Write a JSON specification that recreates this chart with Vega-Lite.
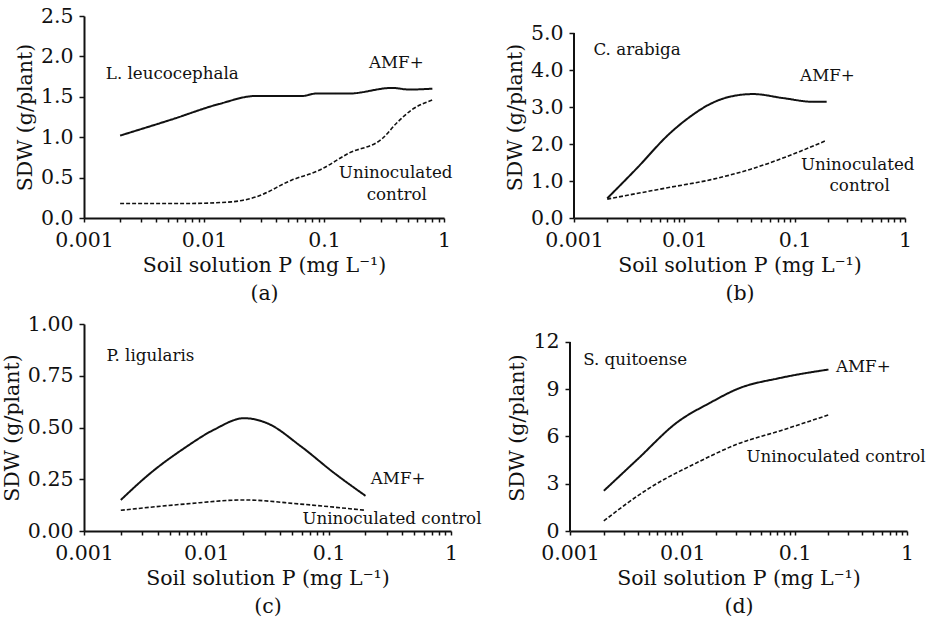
{
  "$schema": "https://vega.github.io/schema/vega-lite/v6.json",
  "padding": {"left": 2, "top": 6, "right": 2, "bottom": 2},
  "background": "white",
  "config": {
    "font": "DejaVu Serif",
    "view": {"stroke": null},
    "axis": {
      "grid": false,
      "domainColor": "#111",
      "domainWidth": 2,
      "tickColor": "#111",
      "tickWidth": 1.5,
      "tickSize": 4,
      "labelColor": "#111",
      "labelFontSize": 20.5,
      "labelFont": "DejaVu Serif",
      "titleColor": "#111",
      "titleFontSize": 20.5,
      "titleFont": "DejaVu Serif",
      "titleFontWeight": "normal",
      "labelOverlap": false,
      "labelFlush": false
    },
    "axisX": {"labelPadding": 8, "titlePadding": 5, "titleLineHeight": 28},
    "axisY": {"tickSize": 5, "labelPadding": 6, "titlePadding": 5}
  },
  "datasets": {
    "d": [
      {"panel": "a", "series": "AMF+", "P": 0.002, "SDW": 1.02},
      {"panel": "a", "series": "AMF+", "P": 0.0054, "SDW": 1.22},
      {"panel": "a", "series": "AMF+", "P": 0.0133, "SDW": 1.41},
      {"panel": "a", "series": "AMF+", "P": 0.027, "SDW": 1.51},
      {"panel": "a", "series": "AMF+", "P": 0.066, "SDW": 1.51},
      {"panel": "a", "series": "AMF+", "P": 0.086, "SDW": 1.54},
      {"panel": "a", "series": "AMF+", "P": 0.16, "SDW": 1.54},
      {"panel": "a", "series": "AMF+", "P": 0.37, "SDW": 1.61},
      {"panel": "a", "series": "AMF+", "P": 0.51, "SDW": 1.59},
      {"panel": "a", "series": "AMF+", "P": 0.8, "SDW": 1.6},
      {"panel": "a", "series": "Uninoculated control", "P": 0.002, "SDW": 0.18},
      {"panel": "a", "series": "Uninoculated control", "P": 0.0071, "SDW": 0.18},
      {"panel": "a", "series": "Uninoculated control", "P": 0.017, "SDW": 0.2},
      {"panel": "a", "series": "Uninoculated control", "P": 0.027, "SDW": 0.26},
      {"panel": "a", "series": "Uninoculated control", "P": 0.054, "SDW": 0.47},
      {"panel": "a", "series": "Uninoculated control", "P": 0.091, "SDW": 0.59},
      {"panel": "a", "series": "Uninoculated control", "P": 0.16, "SDW": 0.8},
      {"panel": "a", "series": "Uninoculated control", "P": 0.31, "SDW": 0.99},
      {"panel": "a", "series": "Uninoculated control", "P": 0.4, "SDW": 1.17},
      {"panel": "a", "series": "Uninoculated control", "P": 0.54, "SDW": 1.34},
      {"panel": "a", "series": "Uninoculated control", "P": 0.8, "SDW": 1.46},
      {"panel": "a", "label": "L. leucocephala", "P": 0.00152, "SDW": 1.78},
      {"panel": "a", "label": "AMF+", "P": 0.237, "SDW": 1.92},
      {"panel": "a", "label": "Uninoculated", "P": 0.133, "SDW": 0.56},
      {"panel": "a", "label": "control", "P": 0.227, "SDW": 0.28},

      {"panel": "b", "axisline": "y", "P": 0.001, "SDW": 0, "SDW2": 5},
      {"panel": "b", "series": "AMF+", "P": 0.002, "SDW": 0.53},
      {"panel": "b", "series": "AMF+", "P": 0.0037, "SDW": 1.34},
      {"panel": "b", "series": "AMF+", "P": 0.0074, "SDW": 2.29},
      {"panel": "b", "series": "AMF+", "P": 0.0113, "SDW": 2.74},
      {"panel": "b", "series": "AMF+", "P": 0.0171, "SDW": 3.08},
      {"panel": "b", "series": "AMF+", "P": 0.026, "SDW": 3.28},
      {"panel": "b", "series": "AMF+", "P": 0.042, "SDW": 3.35},
      {"panel": "b", "series": "AMF+", "P": 0.079, "SDW": 3.24},
      {"panel": "b", "series": "AMF+", "P": 0.148, "SDW": 3.14},
      {"panel": "b", "series": "AMF+", "P": 0.195, "SDW": 3.14},
      {"panel": "b", "series": "Uninoculated control", "P": 0.002, "SDW": 0.51},
      {"panel": "b", "series": "Uninoculated control", "P": 0.0074, "SDW": 0.83},
      {"panel": "b", "series": "Uninoculated control", "P": 0.0171, "SDW": 1.03},
      {"panel": "b", "series": "Uninoculated control", "P": 0.04, "SDW": 1.32},
      {"panel": "b", "series": "Uninoculated control", "P": 0.112, "SDW": 1.8},
      {"panel": "b", "series": "Uninoculated control", "P": 0.195, "SDW": 2.1},
      {"panel": "b", "label": "C. arabiga", "P": 0.0015, "SDW": 4.55},
      {"panel": "b", "label": "AMF+", "P": 0.112, "SDW": 3.83},
      {"panel": "b", "label": "Uninoculated", "P": 0.114, "SDW": 1.44},
      {"panel": "b", "label": "control", "P": 0.207, "SDW": 0.86},

      {"panel": "c", "series": "AMF+", "P": 0.002, "SDW": 0.15},
      {"panel": "c", "series": "AMF+", "P": 0.0035, "SDW": 0.28},
      {"panel": "c", "series": "AMF+", "P": 0.0066, "SDW": 0.4},
      {"panel": "c", "series": "AMF+", "P": 0.0116, "SDW": 0.49},
      {"panel": "c", "series": "AMF+", "P": 0.0204, "SDW": 0.545},
      {"panel": "c", "series": "AMF+", "P": 0.0316, "SDW": 0.52},
      {"panel": "c", "series": "AMF+", "P": 0.059, "SDW": 0.41},
      {"panel": "c", "series": "AMF+", "P": 0.111, "SDW": 0.28},
      {"panel": "c", "series": "AMF+", "P": 0.2, "SDW": 0.17},
      {"panel": "c", "series": "Uninoculated control", "P": 0.002, "SDW": 0.1},
      {"panel": "c", "series": "Uninoculated control", "P": 0.0066, "SDW": 0.13},
      {"panel": "c", "series": "Uninoculated control", "P": 0.02, "SDW": 0.15},
      {"panel": "c", "series": "Uninoculated control", "P": 0.059, "SDW": 0.13},
      {"panel": "c", "series": "Uninoculated control", "P": 0.2, "SDW": 0.1},
      {"panel": "c", "label": "P. ligularis", "P": 0.00153, "SDW": 0.847},
      {"panel": "c", "label": "AMF+", "P": 0.221, "SDW": 0.25},
      {"panel": "c", "label": "Uninoculated control", "P": 0.061, "SDW": 0.056},

      {"panel": "d", "axisline": "y", "P": 0.001, "SDW": 0, "SDW2": 12},
      {"panel": "d", "series": "AMF+", "P": 0.002, "SDW": 2.55},
      {"panel": "d", "series": "AMF+", "P": 0.004, "SDW": 4.56},
      {"panel": "d", "series": "AMF+", "P": 0.009, "SDW": 6.9},
      {"panel": "d", "series": "AMF+", "P": 0.018, "SDW": 8.17},
      {"panel": "d", "series": "AMF+", "P": 0.031, "SDW": 9.02},
      {"panel": "d", "series": "AMF+", "P": 0.075, "SDW": 9.72},
      {"panel": "d", "series": "AMF+", "P": 0.2, "SDW": 10.25},
      {"panel": "d", "series": "Uninoculated control", "P": 0.002, "SDW": 0.64},
      {"panel": "d", "series": "Uninoculated control", "P": 0.0049, "SDW": 2.65},
      {"panel": "d", "series": "Uninoculated control", "P": 0.0136, "SDW": 4.35},
      {"panel": "d", "series": "Uninoculated control", "P": 0.031, "SDW": 5.52},
      {"panel": "d", "series": "Uninoculated control", "P": 0.075, "SDW": 6.37},
      {"panel": "d", "series": "Uninoculated control", "P": 0.2, "SDW": 7.37},
      {"panel": "d", "label": "S. quitoense", "P": 0.00131, "SDW": 10.83},
      {"panel": "d", "label": "AMF+", "P": 0.233, "SDW": 10.4},
      {"panel": "d", "label": "Uninoculated control", "P": 0.0372, "SDW": 4.67}
    ]
  },
  "data": {"name": "d"},
  "spacing": 10,
  "vconcat": [
    {
      "spacing": 52,
      "hconcat": [
        {
          "width": 360, "height": 202,
          "transform": [{"filter": "datum.panel == 'a'"}],
          "encoding": {
            "x": {"field": "P", "type": "quantitative", "scale": {"type": "log", "domain": [0.001, 1]},
              "axis": {"values": [0.001,0.002,0.003,0.004,0.005,0.006,0.007,0.008,0.009,0.01,0.02,0.03,0.04,0.05,0.06,0.07,0.08,0.09,0.1,0.2,0.3,0.4,0.5,0.6,0.7,0.8,0.9,1],
                "format": "~g", "labelExpr": "indexof([0.001,0.01,0.1,1], datum.value) >= 0 ? datum.label : ''",
                "title": ["Soil solution P (mg L⁻¹)", "(a)"]}},
            "y": {"field": "SDW", "type": "quantitative", "scale": {"domain": [0, 2.5], "nice": false},
              "axis": {"values": [0, 0.5, 1, 1.5, 2, 2.5], "format": ".1f", "title": "SDW (g/plant)"}}
          },
          "layer": [
            {"transform": [{"filter": "isValid(datum.series)"}],
             "mark": {"type": "line", "interpolate": "monotone", "color": "#111"},
             "encoding": {
               "detail": {"field": "series"},
               "strokeDash": {"field": "series", "scale": {"domain": ["AMF+", "Uninoculated control"], "range": [[1, 0], [4, 2]]}, "legend": null},
               "strokeWidth": {"field": "series", "scale": {"domain": ["AMF+", "Uninoculated control"], "range": [2, 1.6]}, "legend": null}
             }},
            {"transform": [{"filter": "isValid(datum.label)"}],
             "mark": {"type": "text", "align": "left", "baseline": "middle", "fontSize": 16.7, "color": "#111"},
             "encoding": {"text": {"field": "label"}}}
          ]
        },
        {
          "width": 331, "height": 202,
          "transform": [{"filter": "datum.panel == 'b'"}],
          "encoding": {
            "x": {"field": "P", "type": "quantitative", "scale": {"type": "log", "domain": [0.001, 1]},
              "axis": {"values": [0.001,0.002,0.003,0.004,0.005,0.006,0.007,0.008,0.009,0.01,0.02,0.03,0.04,0.05,0.06,0.07,0.08,0.09,0.1,0.2,0.3,0.4,0.5,0.6,0.7,0.8,0.9,1],
                "format": "~g", "labelExpr": "indexof([0.001,0.01,0.1,1], datum.value) >= 0 ? datum.label : ''",
                "title": ["Soil solution P (mg L⁻¹)", "(b)"]}},
            "y": {"field": "SDW", "type": "quantitative", "scale": {"domain": [0, 5.46], "nice": false},
              "axis": {"values": [0, 1, 2, 3, 4, 5], "format": ".1f", "title": "SDW (g/plant)", "domain": false}}
          },
          "layer": [
            {"transform": [{"filter": "isValid(datum.axisline)"}],
             "mark": {"type": "rule", "color": "#111", "strokeWidth": 2},
             "encoding": {"y2": {"field": "SDW2"}}},
            {"transform": [{"filter": "isValid(datum.series)"}],
             "mark": {"type": "line", "interpolate": "monotone", "color": "#111"},
             "encoding": {
               "detail": {"field": "series"},
               "strokeDash": {"field": "series", "scale": {"domain": ["AMF+", "Uninoculated control"], "range": [[1, 0], [4, 2]]}, "legend": null},
               "strokeWidth": {"field": "series", "scale": {"domain": ["AMF+", "Uninoculated control"], "range": [2, 1.6]}, "legend": null}
             }},
            {"transform": [{"filter": "isValid(datum.label)"}],
             "mark": {"type": "text", "align": "left", "baseline": "middle", "fontSize": 16.7, "color": "#111"},
             "encoding": {"text": {"field": "label"}}}
          ]
        }
      ]
    },
    {
      "spacing": 25,
      "hconcat": [
        {
          "width": 367, "height": 207,
          "transform": [{"filter": "datum.panel == 'c'"}],
          "encoding": {
            "x": {"field": "P", "type": "quantitative", "scale": {"type": "log", "domain": [0.001, 1]},
              "axis": {"values": [0.001,0.002,0.003,0.004,0.005,0.006,0.007,0.008,0.009,0.01,0.02,0.03,0.04,0.05,0.06,0.07,0.08,0.09,0.1,0.2,0.3,0.4,0.5,0.6,0.7,0.8,0.9,1],
                "format": "~g", "labelExpr": "indexof([0.001,0.01,0.1,1], datum.value) >= 0 ? datum.label : ''",
                "title": ["Soil solution P (mg L⁻¹)", "(c)"]}},
            "y": {"field": "SDW", "type": "quantitative", "scale": {"domain": [0, 1], "nice": false},
              "axis": {"values": [0, 0.25, 0.5, 0.75, 1], "format": ".2f", "title": "SDW (g/plant)"}}
          },
          "layer": [
            {"transform": [{"filter": "isValid(datum.series)"}],
             "mark": {"type": "line", "interpolate": "monotone", "color": "#111"},
             "encoding": {
               "detail": {"field": "series"},
               "strokeDash": {"field": "series", "scale": {"domain": ["AMF+", "Uninoculated control"], "range": [[1, 0], [4, 2]]}, "legend": null},
               "strokeWidth": {"field": "series", "scale": {"domain": ["AMF+", "Uninoculated control"], "range": [2, 1.6]}, "legend": null}
             }},
            {"transform": [{"filter": "isValid(datum.label)"}],
             "mark": {"type": "text", "align": "left", "baseline": "middle", "fontSize": 16.7, "color": "#111"},
             "encoding": {"text": {"field": "label"}}}
          ]
        },
        {
          "width": 337, "height": 207,
          "transform": [{"filter": "datum.panel == 'd'"}],
          "encoding": {
            "x": {"field": "P", "type": "quantitative", "scale": {"type": "log", "domain": [0.001, 1]},
              "axis": {"values": [0.001,0.002,0.003,0.004,0.005,0.006,0.007,0.008,0.009,0.01,0.02,0.03,0.04,0.05,0.06,0.07,0.08,0.09,0.1,0.2,0.3,0.4,0.5,0.6,0.7,0.8,0.9,1],
                "format": "~g", "labelExpr": "indexof([0.001,0.01,0.1,1], datum.value) >= 0 ? datum.label : ''",
                "title": ["Soil solution P (mg L⁻¹)", "(d)"]}},
            "y": {"field": "SDW", "type": "quantitative", "scale": {"domain": [0, 13.14], "nice": false},
              "axis": {"values": [0, 3, 6, 9, 12], "format": "d", "title": "SDW (g/plant)", "domain": false}}
          },
          "layer": [
            {"transform": [{"filter": "isValid(datum.axisline)"}],
             "mark": {"type": "rule", "color": "#111", "strokeWidth": 2},
             "encoding": {"y2": {"field": "SDW2"}}},
            {"transform": [{"filter": "isValid(datum.series)"}],
             "mark": {"type": "line", "interpolate": "monotone", "color": "#111"},
             "encoding": {
               "detail": {"field": "series"},
               "strokeDash": {"field": "series", "scale": {"domain": ["AMF+", "Uninoculated control"], "range": [[1, 0], [4, 2]]}, "legend": null},
               "strokeWidth": {"field": "series", "scale": {"domain": ["AMF+", "Uninoculated control"], "range": [2, 1.6]}, "legend": null}
             }},
            {"transform": [{"filter": "isValid(datum.label)"}],
             "mark": {"type": "text", "align": "left", "baseline": "middle", "fontSize": 16.7, "color": "#111"},
             "encoding": {"text": {"field": "label"}}}
          ]
        }
      ]
    }
  ]
}
